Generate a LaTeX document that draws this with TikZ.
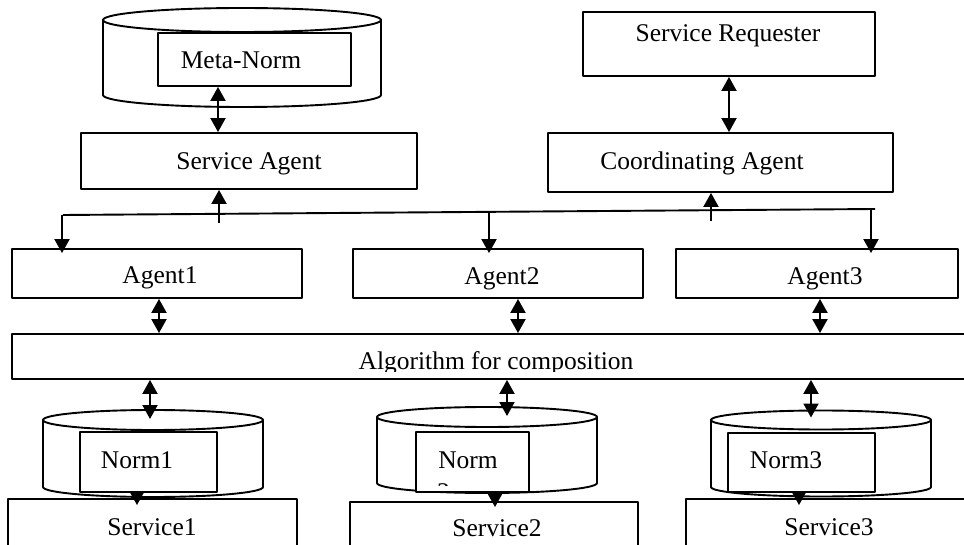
\documentclass[tikz,border=0pt]{standalone}
\usepackage{fontspec}
\setmainfont{Liberation Serif}
\usetikzlibrary{arrows.meta,fit,calc}
\tikzset{
  box/.style={draw,line width=1.9pt,fill=white,inner sep=0pt},
  lbl/.style={anchor=base,inner sep=0pt,font=\fontsize{25.5}{30}\selectfont},
  link/.style={line width=2pt,-{Triangle[length=14pt,width=15pt]}},
  dlink/.style={line width=2pt,{Triangle[length=14pt,width=15pt]}-{Triangle[length=14pt,width=15pt]}}
}
% store drum: name, centre x, top y, bottom y, x radius, y radius
\newcommand{\normdrum}[6]{%
  \draw[line width=1.9pt,fill=white] (#2-#5,#3) -- (#2-#5,#4) arc[start angle=180,end angle=360,x radius=#5pt,y radius=#6pt] -- (#2+#5,#3);
  \draw[line width=1.9pt,fill=white] (#2,#3) ellipse[x radius=#5pt,y radius=#6pt];
  \coordinate (#1) at (#2,#3-#6);}
\begin{document}
\begin{tikzpicture}[x=1pt,y=-1pt,line join=round]
	\fill[white] (0,0) rectangle (964,545);
	\useasboundingbox (0,0) rectangle (964,545);
	% top part
	\normdrum{mntop}{242}{20}{95}{139}{12}
	\node[box,fit={(158,33) (351,86)}] (mnrect) {};
	\node[lbl] (mntext) at (241,69) {Meta-Norm};
	\node[box,fit={(583,12) (875,76)}] (req) {};
	\node[lbl] (reqtext) at (728,42) {Service Requester};
	\node[box,fit={(81,133) (417,189)}] (sagent) {};
	\node[lbl] (sagenttext) at (249,170) {Service Agent};
	\node[box,fit={(548,133) (893,192)}] (coord) {};
	\node[lbl] (coordtext) at (702,170) {Coordinating Agent};
	\draw[dlink] ([xshift=-36.5pt]mnrect.south) -- ([xshift=-31pt]sagent.north);
	\draw[dlink] (req.south) -- ([xshift=8.5pt]coord.north);
	% agents
	\node[box,fit={(12,249) (302,298)}] (agent1) {};
	\node[box,fit={(353,249) (643,298)}] (agent2) {};
	\node[box,fit={(676,249) (958,298)}] (agent3) {};
	\node[lbl] (agent1text) at (160,284) {Agent1};
	\node[lbl] (agent2text) at (502,285) {Agent2};
	\node[lbl] (agent3text) at (825,285) {Agent3};
	\coordinate (busL) at (63,215);
	\coordinate (busR) at (875,209);
	\coordinate (b1) at (62,215);
	\coordinate (b2) at (489,212);
	\coordinate (b3) at (871,209);
	\coordinate (u1) at (219,223);
	\coordinate (u2) at (711,221);
	\draw[line width=1.9pt] (busL) -- (busR);
	\draw[link,shorten >=-5pt] (b1) -- (b1 |- agent1.north);
	\draw[link,shorten >=-5pt] (b2) -- (b2 |- agent2.north);
	\draw[link,shorten >=-5pt] (b3) -- (b3 |- agent3.north);
	\draw[link] (u1) -- (u1 |- sagent.south);
	\draw[link] (u2) -- (u2 |- coord.south);
	% composition
	\node[box,fit={(12,334) (975,379)}] (algo) {};
	\begin{scope}
		\clip (0,334) rectangle (964,371);
		\node[lbl] (algotext) at (496,369) {Algorithm for composition};
	\end{scope}
	\draw[dlink] ([xshift=2pt]agent1.south) -- ([xshift=-334.5pt]algo.north);
	\draw[dlink] ([xshift=20pt]agent2.south) -- ([xshift=24.5pt]algo.north);
	\draw[dlink] ([xshift=3pt]agent3.south) -- ([xshift=326.5pt]algo.north);
	% norms and services
	\node[box,fit={(8,499) (297,560)}] (serv1) {};
	\node[box,fit={(350,502) (638,560)}] (serv2) {};
	\node[box,fit={(686,499) (975,560)}] (serv3) {};
	\node[lbl] (serv1text) at (152,535) {Service1};
	\node[lbl] (serv2text) at (497,536) {Service2};
	\node[lbl] (serv3text) at (829,535) {Service3};
	\normdrum{ct1}{153}{420}{487}{110}{10}
	\normdrum{ct2}{487}{417}{483}{110}{10}
	\normdrum{ct3}{821}{420}{487}{110}{9.5}
	\node[box,fit={(80,432) (217,492)}] (n1rect) {};
	\node[box,fit={(416,432) (529,492)}] (n2rect) {};
	\node[box,fit={(728,433) (875,492)}] (n3rect) {};
	\node[lbl] (n1text) at (137,468) {Norm1};
	\node[lbl] (n2text) at (468,468) {Norm};
	\begin{scope}
		\clip (416,432) rectangle (529,485);
		\node[lbl,anchor=base west] (n2cut) at (437,500) {2};
	\end{scope}
	\node[lbl] (n3text) at (786,468) {Norm3};
	\draw[dlink] ([xshift=-343.5pt]algo.south) -- ([xshift=-3pt,yshift=-9pt]ct1);
	\draw[dlink] ([xshift=13.5pt]algo.south) -- ([xshift=20pt,yshift=-9pt]ct2);
	\draw[dlink] ([xshift=317.5pt]algo.south) -- ([xshift=-10pt,yshift=-7pt]ct3);
	\draw[link,shorten >=-7pt] ([xshift=-11.5pt]n1rect.south) -- ([xshift=-15.5pt]serv1.north);
	\draw[link,shorten >=-6pt] ([xshift=22.5pt]n2rect.south) -- ([xshift=1pt]serv2.north);
	\draw[link,shorten >=-7pt] ([xshift=-2.5pt]n3rect.south) -- ([xshift=-31.5pt]serv3.north);
\end{tikzpicture}
\end{document}
